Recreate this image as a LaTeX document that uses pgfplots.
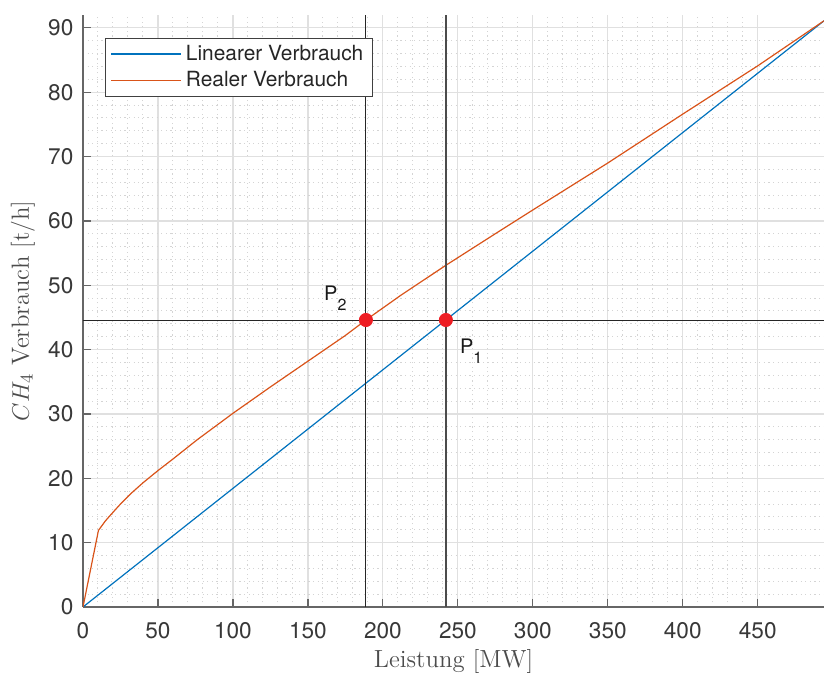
\documentclass[border=0pt]{standalone}
\usepackage{pgfplots}
\pgfplotsset{compat=1.18}
\usepackage{fontspec}
\newfontfamily\helv{TeX Gyre Heros}
\definecolor{mblue}{HTML}{0072BD}
\definecolor{morange}{HTML}{D95319}
\definecolor{mred}{HTML}{EE1D23}
\begin{document}
\begin{tikzpicture}
\begin{axis}[
  scale only axis, width=370.5pt, height=296pt,
  xmin=0, xmax=494.2, ymin=0, ymax=92,
  axis lines=left, axis line style={-, black!60, line width=0.6pt},
  xtick={0,50,...,450}, ytick={0,10,...,90},
  minor x tick num=4, minor y tick num=4,
  tick align=inside, major tick length=4pt, minor tick length=0pt,
  tick style={black!60, line width=0.6pt},
  grid=both,
  major grid style={black!12, line width=0.6pt},
  minor grid style={black!17, line width=0.5pt, dash pattern=on 0.6pt off 1.7pt},
  ticklabel style={font=\helv\fontsize{11.3}{13}\selectfont, text=black!78},
  /pgf/number format/assume math mode=true,
  yticklabel style={xshift=-1.3pt},
  xticklabel style={yshift=-4.3pt},
  xlabel={Leistung $[\mathrm{MW}]$},
  ylabel={$CH_4$\ Verbrauch $[\mathrm{t/h}]$},
  label style={font=\fontsize{12.4}{14}\selectfont, text=black!70},
  xlabel style={at={(axis description cs:0.5,-0.1014)}, anchor=base},
  ylabel style={at={(axis description cs:-0.081,0.5)}, anchor=center},
  legend style={at={(axis description cs:0,1)}, anchor=north west, xshift=11pt, yshift=-11.25pt,
    draw=black!75, line width=0.5pt, fill=white,
    font=\helv\fontsize{10.45}{12}\selectfont, text=black!85,
    inner xsep=2.5pt, inner ysep=1.5pt, row sep=0pt,
    nodes={inner sep=2pt}},
  legend cell align=left,
  legend image code/.code={\draw[#1, line width=0.7pt] (0pt,0pt) -- (35pt,0pt);},
]
\addplot[mblue, line width=0.6pt] coordinates {(0,0) (494.2,91.1)};
\addlegendentry{Linearer Verbrauch}
\addplot[morange, line width=0.6pt] coordinates {
(0,0) (10.3,11.9) (15,13.4) (20.7,14.9) (25,16.0) (31.8,17.6) (40,19.3) (50,21.2)
(60,23.0) (76.2,26.0) (100,30.1) (125,34.2) (150,38.2) (175,42.2) (188.7,44.6)
(211.7,48.4) (242,53.1) (278.3,58.5) (300,61.7) (350,69.0) (400,76.6) (450,84.1) (494.2,91.1)};
\addlegendentry{Realer Verbrauch}
\addplot[black!85, line width=0.5pt, forget plot] coordinates {(188.7,0) (188.7,92)};
\addplot[black!70, line width=0.8pt, forget plot] coordinates {(242,0) (242,92)};
\addplot[black!85, line width=0.5pt, forget plot] coordinates {(0,44.6) (494.2,44.6)};
\addplot[only marks, mark=*, mark size=3.3pt, mark options={fill=mred, draw=mred}, forget plot] coordinates {(188.7,44.6) (242,44.6)};
\node[anchor=base west, font=\helv\fontsize{10}{12}\selectfont, inner sep=0pt, text=black!90] at (axis cs:160.6,47.66) {P\raisebox{-5pt}{\fontsize{8}{9}\selectfont 2}};
\node[anchor=base west, font=\helv\fontsize{10}{12}\selectfont, inner sep=0pt, text=black!90] at (axis cs:251.2,39.37) {P\raisebox{-5pt}{\fontsize{8}{9}\selectfont 1}};
\coordinate (A) at (rel axis cs:0,0);
\coordinate (B) at (rel axis cs:1,1);
\end{axis}
\pgfresetboundingbox
\path[use as bounding box] ([xshift=-41.5pt,yshift=-33pt]A) rectangle ([yshift=7.5pt]B);
\end{tikzpicture}
\end{document}
